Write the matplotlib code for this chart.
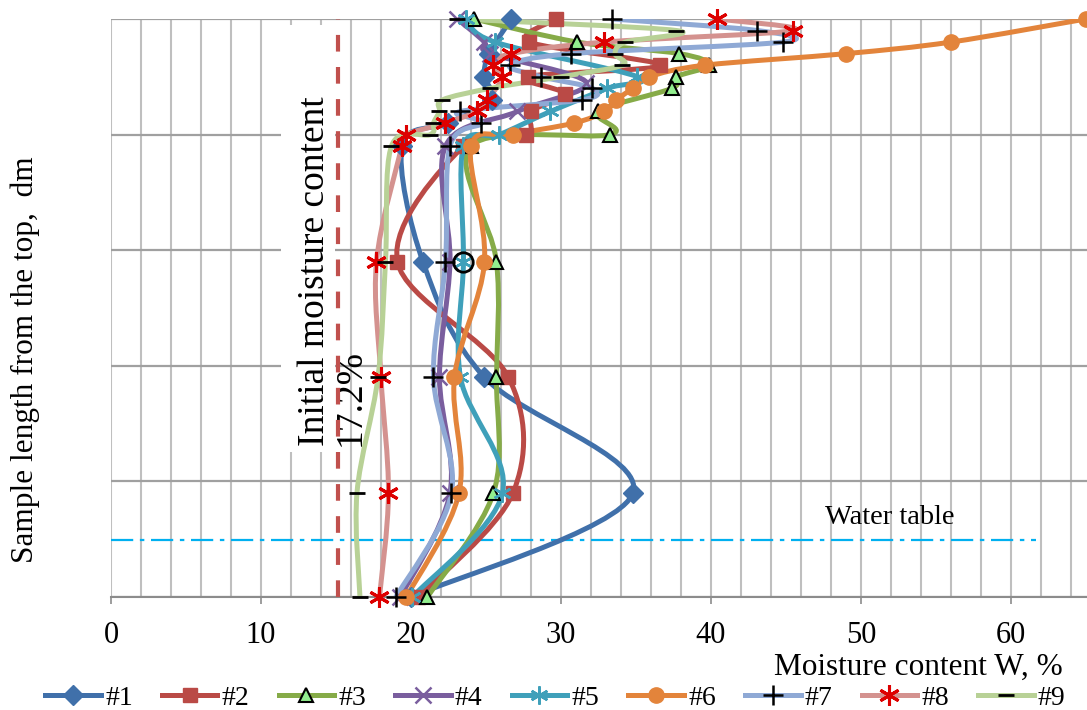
import numpy as np
import matplotlib
matplotlib.use('Agg')
import matplotlib.pyplot as plt
from matplotlib.path import Path
from matplotlib.patches import PathPatch, Rectangle
from matplotlib.lines import Line2D

plt.rcParams['font.family'] = ['Liberation Serif', 'DejaVu Serif']

# depth from the top (dm) and moisture content W (%) for each sample
depth_1 = [0, 0.3, 0.5, 0.7, 0.9, 1.1, 2.1, 3.1, 4.1, 5.0]
w_1 = [26.7, 25.2, 24.9, 25.4, 22.5, 19.4, 20.8, 24.9, 34.8, 20.0]

depth_2 = [0, 0.2, 0.4, 0.5, 0.65, 0.8, 1.0, 1.1, 2.1, 3.1, 4.1, 5.0]
w_2 = [29.7, 27.9, 36.6, 27.8, 30.3, 28.0, 27.7, 23.5, 19.1, 26.5, 26.8, 20.5]

depth_3 = [0, 0.2, 0.3, 0.4, 0.5, 0.6, 0.8, 1.0, 1.1, 2.1, 3.1, 4.1, 5.0]
w_3 = [24.2, 31.1, 37.9, 39.9, 37.7, 37.4, 32.5, 33.3, 24.0, 25.7, 25.7, 25.5, 21.1]

depth_4 = [0, 0.2, 0.3, 0.55, 0.8, 1.1, 2.1, 3.1, 4.1, 5.0]
w_4 = [23.1, 24.9, 25.3, 31.7, 27.1, 22.3, 22.6, 21.9, 22.6, 19.3]

depth_5 = [0, 0.2, 0.5, 0.6, 0.8, 1.0, 1.1, 2.1, 3.1, 4.1, 5.0]
w_5 = [23.7, 25.6, 35.1, 33.1, 29.3, 25.9, 23.5, 23.5, 23.3, 26.1, 20.1]

depth_6 = [0, 0.2, 0.3, 0.4, 0.5, 0.6, 0.7, 0.8, 0.9, 1.0, 1.1, 2.1, 3.1, 4.1, 5.0]
w_6 = [65.0, 56.0, 49.0, 39.6, 35.9, 34.8, 33.7, 32.9, 30.9, 26.8, 24.0, 24.9, 22.9, 23.2, 19.7]

depth_7 = [0, 0.1, 0.2, 0.3, 0.4, 0.5, 0.6, 0.7, 0.8, 0.9, 1.1, 2.1, 3.1, 4.1, 5.0]
w_7 = [33.4, 43.1, 44.8, 30.7, 26.6, 28.7, 32.1, 31.4, 23.3, 24.7, 22.6, 22.3, 21.5, 22.7, 19.0]

depth_8 = [0, 0.1, 0.2, 0.3, 0.4, 0.5, 0.7, 0.8, 0.9, 1.0, 1.1, 2.1, 3.1, 4.1, 5.0]
w_8 = [40.4, 45.5, 32.9, 26.7, 25.5, 26.1, 25.1, 24.4, 22.3, 19.7, 19.4, 17.7, 18.0, 18.5, 17.9]

depth_9 = [0, 0.1, 0.2, 0.3, 0.4, 0.5, 0.6, 0.7, 0.8, 0.9, 1.0, 1.1, 2.1, 3.1, 4.1, 5.0]
w_9 = [23.1, 37.7, 34.3, 33.6, 34.1, 30.0, 25.3, 22.1, 21.9, 21.5, 21.3, 18.7, 18.3, 17.8, 16.4, 16.6]

labels = ['#1', '#2', '#3', '#4', '#5', '#6', '#7', '#8', '#9']
stray_w = [23.5]
stray_depth = [2.1]

initial_w = 15.13
water_depth = 4.51
water_x = [0, 61.7]

star = (6, 2, 0)
styles = [
    dict(color='#4070AA', marker='D', mfc='#4070AA', mec='#4070AA', ms=10, mew=1),
    dict(color='#BA4A46', marker='s', mfc='#BA4A46', mec='#BA4A46', ms=10, mew=1),
    dict(color='#86AB48', marker='^', mfc='#92EE8E', mec='black', ms=10, mew=1.5),
    dict(color='#7A5E9E', marker='x', mfc='#7A5E9E', mec='#7A5E9E', ms=12, mew=1.8),
    dict(color='#3FA0BA', marker=star, mfc='#3FA0BA', mec='#3FA0BA', ms=13, mew=1.8),
    dict(color='#E3843B', marker='o', mfc='#E3843B', mec='#E3843B', ms=11, mew=1),
    dict(color='#8FA9D5', marker='+', mfc='black', mec='black', ms=14, mew=1.8),
    dict(color='#D4928F', marker=star, mfc='#DD0000', mec='#DD0000', ms=15, mew=2.2),
    dict(color='#B8D196', marker='_', mfc='black', mec='black', ms=12, mew=2),
]
data = [(w_1, depth_1), (w_2, depth_2), (w_3, depth_3), (w_4, depth_4), (w_5, depth_5),
        (w_6, depth_6), (w_7, depth_7), (w_8, depth_8), (w_9, depth_9)]


def smooth_path(x, y):
    # Bezier smoothing like a spreadsheet's "smoothed line"
    pts = np.column_stack([x, y]).astype(float)
    n = len(pts)
    verts = [pts[0]]
    codes = [Path.MOVETO]
    for i in range(n - 1):
        p0 = pts[max(i - 1, 0)]
        p1 = pts[i]
        p2 = pts[i + 1]
        p3 = pts[min(i + 2, n - 1)]
        verts += [p1 + (p2 - p0) / 6, p2 - (p3 - p1) / 6, p2]
        codes += [Path.CURVE4] * 3
    return Path(verts, codes)


fig = plt.figure(figsize=(10.87, 7.10), dpi=100)
ax = fig.add_axes([0.1021, 0.1592, 0.8979, 0.8141])
ax.set_xlim(0, 65.07)
ax.set_ylim(5, 0)
ax.set_axisbelow(True)

ax.set_xticks(np.arange(0, 61, 10))
ax.set_xticks(np.arange(0, 66, 2), minor=True)
ax.set_yticks(np.arange(0, 6, 1))
ax.grid(which='both', axis='x', color='#BFBFBF', lw=1.5)
ax.grid(which='major', axis='y', color='#A0A0A0', lw=1.6)
ax.tick_params(axis='y', left=False, labelleft=False)
ax.tick_params(axis='x', which='major', length=5, width=1.2, color='#8C8C8C', pad=12, labelsize=22)
ax.tick_params(axis='x', which='minor', length=0)
for s in ['top', 'right', 'left']:
    ax.spines[s].set_visible(False)
ax.spines['bottom'].set_color('#8C8C8C')
ax.spines['bottom'].set_linewidth(1.5)

# white box behind the annotation
ax.add_patch(Rectangle((11.33, 0.05), 3.6, 3.7, facecolor='white', edgecolor='none', zorder=1))
ax.text(14.8, 3.69, 'Initial moisture content\n17.2%', rotation=90, ha='center', va='bottom',
        multialignment='left', fontsize=27, linespacing=1.05, zorder=1.2)
ax.axvline(initial_w, color='#C0504D', lw=3, ls=(0, (4, 3.7)), zorder=3)

ax.plot(water_x, [water_depth, water_depth], color='#00B0F0', lw=1.6, ls=(0, (10, 3, 2, 3)), zorder=1.5)
ax.text(51.9, 4.31, 'Water table', ha='center', va='center', fontsize=20.5)

handles = []
for (w, d), st, lab in zip(data, styles, labels):
    ax.add_patch(PathPatch(smooth_path(w, d), facecolor='none', edgecolor=st['color'],
                           lw=3.6, capstyle='round', joinstyle='round', zorder=2))
    ax.plot(w, d, ls='none', marker=st['marker'], mfc=st['mfc'], mec=st['mec'],
            ms=st['ms'], mew=st['mew'], zorder=4, clip_on=False)
    handles.append(Line2D([], [], color=st['color'], lw=3.6, marker=st['marker'], mfc=st['mfc'],
                          mec=st['mec'], ms=st['ms'], mew=st['mew'], label=lab))

ax.plot(stray_w, stray_depth, ls='none', marker='o', mfc='none', mec='black', ms=14, mew=2, zorder=4)

fig.text(0.978, 0.060, 'Moisture content W, %', ha='right', va='center', fontsize=22.5)
fig.text(0.023, 0.493, 'Sample length from the top,  dm', rotation=90, ha='center', va='center', fontsize=22.5)

fig.legend(handles=handles, loc='center', bbox_to_anchor=(0.511, 0.017), ncol=9, frameon=False,
           fontsize=20, handlelength=2.0, handletextpad=0.15, columnspacing=1.05, borderpad=0)

fig.savefig('out.png', dpi=100)
